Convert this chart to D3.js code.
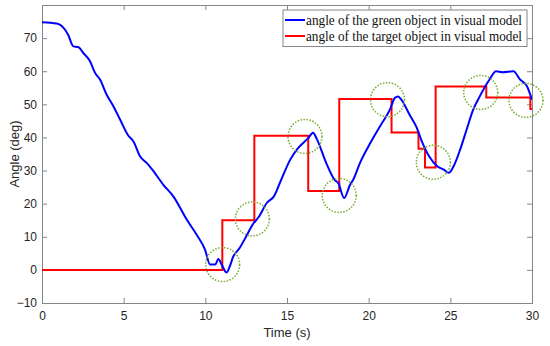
<!DOCTYPE html>
<html>
<head>
<meta charset="utf-8">
<script src="https://cdn.jsdelivr.net/npm/d3@7"></script>
<style>
  body { margin: 0; background: #fff; }
  svg { display: block; }
</style>
</head>
<body>
<svg id="chart" width="550" height="346"></svg>
<script>
// Data
const greenTime = [0, 0.9, 1.4, 1.6, 1.92, 2.22, 2.53, 2.94, 3.25, 3.55, 3.96, 4.37, 4.78, 5.29, 5.6, 6.0, 6.41, 6.75, 7.43, 8.04, 8.86, 9.47, 9.98, 10.29, 10.6, 10.8, 11.0, 11.3, 11.5, 11.7, 12.1, 12.5, 12.9, 13.3, 13.76, 14.2, 14.6, 15.2, 15.6, 16.3, 16.6, 16.8, 17.4, 17.9, 18.14, 18.5, 18.86, 19.06, 19.47, 20.1, 20.7, 21.3, 21.6, 21.8, 22.0, 22.5, 22.9, 23.3, 23.7, 24.2, 24.6, 24.9, 25.2, 25.6, 26.0, 26.4, 26.8, 27.4, 27.8, 28.2, 28.86, 29.27, 29.7, 30];
const greenAngle = [74.8, 74.4, 72.6, 71, 67.5, 67.3, 65.5, 63, 59.5, 57.5, 52.9, 49.4, 45.4, 40.5, 38.8, 34.3, 32.3, 30.3, 25.7, 22.2, 15.2, 10.6, 6.1, 1.6, 1.6, 3.3, 1.6, -0.8, 1.1, 3.9, 6.6, 10.1, 13.7, 16.2, 20.2, 22.2, 26.7, 33.3, 36.3, 39.8, 41.4, 39.8, 32.3, 27.3, 26.2, 21.7, 25.7, 27.3, 32.3, 38.3, 43.4, 48.4, 51.9, 52.4, 51.4, 46.9, 43.4, 38.3, 34.3, 31.3, 30.3, 29.3, 31.3, 36.3, 42.4, 48.4, 52.4, 57.5, 60, 59.7, 60, 57.5, 55.4, 51.4];

// target steps: value holds from stepStart[i] until stepStart[i+1]
const stepStart = [0, 11.04, 13.0, 16.3, 18.2, 21.4, 23.05, 23.45, 24.1, 27.2, 29.9, 30];
const stepValue = [0, 15, 40.5, 23.8, 51.6, 41.5, 36.6, 30.9, 55.4, 52.1, 48.6, 48.6];

const circleTime = [11.06, 12.88, 16.1, 18.2, 21.15, 23.96, 26.86, 29.63];
const circleAngle = [1.6, 15.4, 40.3, 22.5, 51.4, 32.5, 53.6, 51.2];

const xTicks = [0, 5, 10, 15, 20, 25, 30];
const yTicks = [-10, 0, 10, 20, 30, 40, 50, 60, 70];
const legendLabels = ["angle of the green object in visual model", "angle of the target object in visual model"];
const legendColors = ["#0000ff", "#ff0000"];

// Layout
const plotLeft = 42, plotRight = 532, plotTop = 5, plotBottom = 303;
const svg = d3.select("#chart");

const x = d3.scaleLinear().domain([0, 30]).range([plotLeft, plotRight]);
const y = d3.scaleLinear().domain([-10, 80]).range([plotBottom, plotTop]);

const axisColor = "#868686";
const textColor = "#262626";
const sans = "'Liberation Sans', Arial, sans-serif";

// Axes
const gx = svg.append("g").attr("transform", `translate(0,${plotBottom})`)
  .call(d3.axisBottom(x).tickValues(xTicks).tickSize(-5).tickPadding(8).tickFormat(d3.format("d")));
const gxTop = svg.append("g").attr("transform", `translate(0,${plotTop})`)
  .call(d3.axisTop(x).tickValues(xTicks).tickSize(-5).tickFormat(""));
const gy = svg.append("g").attr("transform", `translate(${plotLeft},0)`)
  .call(d3.axisLeft(y).tickValues(yTicks).tickSize(-5).tickPadding(5).tickFormat(d3.format("d")));
const gyRight = svg.append("g").attr("transform", `translate(${plotRight},0)`)
  .call(d3.axisRight(y).tickValues(yTicks).tickSize(-5).tickFormat(""));

[gx, gxTop, gy, gyRight].forEach(g => {
  g.selectAll("path.domain").attr("stroke", axisColor).attr("stroke-width", 1);
  g.selectAll(".tick line").attr("stroke", axisColor);
  g.selectAll(".tick text")
    .attr("fill", textColor)
    .style("font-family", sans)
    .style("font-size", "12px");
});

// Axis labels
svg.append("text")
  .attr("x", (plotLeft + plotRight) / 2)
  .attr("y", 336.5)
  .attr("text-anchor", "middle")
  .attr("fill", textColor)
  .style("font-family", sans)
  .style("font-size", "13px")
  .text("Time (s)");

svg.append("text")
  .attr("transform", `translate(18.5,${(plotTop + plotBottom) / 2}) rotate(-90)`)
  .attr("text-anchor", "middle")
  .attr("fill", textColor)
  .style("font-family", sans)
  .style("font-size", "13px")
  .text("Angle (deg)");

// Clip
svg.append("clipPath").attr("id", "plot-clip")
  .append("rect").attr("x", plotLeft).attr("y", plotTop)
  .attr("width", plotRight - plotLeft).attr("height", plotBottom - plotTop);

const plot = svg.append("g").attr("clip-path", "url(#plot-clip)");

// Target step line
const stepData = stepStart.map((t, i) => [t, stepValue[i]]);
plot.append("path")
  .datum(stepData)
  .attr("fill", "none")
  .attr("stroke", "#ff0000")
  .attr("stroke-width", 2)
  .attr("d", d3.line().x(d => x(d[0])).y(d => y(d[1])).curve(d3.curveStepAfter));

// Green object line
const greenData = greenTime.map((t, i) => [t, greenAngle[i]]);
plot.append("path")
  .datum(greenData)
  .attr("fill", "none")
  .attr("stroke", "#0000ff")
  .attr("stroke-width", 2)
  .attr("d", d3.line().x(d => x(d[0])).y(d => y(d[1])).curve(d3.curveMonotoneX));

// Circles
svg.append("g")
  .selectAll("circle")
  .data(circleTime.map((t, i) => [t, circleAngle[i]]))
  .join("circle")
  .attr("cx", d => x(d[0]))
  .attr("cy", d => y(d[1]))
  .attr("r", 17)
  .attr("fill", "none")
  .attr("stroke", "#77ac30")
  .attr("stroke-width", 1.5)
  .attr("stroke-dasharray", "1.5,1.5");

// Legend
const legend = svg.append("g");
legend.append("rect")
  .attr("x", 283).attr("y", 10)
  .attr("width", 244).attr("height", 36.5)
  .attr("fill", "#fff")
  .attr("stroke", "#868686")
  .attr("stroke-width", 1);

legendLabels.forEach((label, i) => {
  const ly = 20 + i * 16;
  legend.append("line")
    .attr("x1", 285).attr("x2", 305)
    .attr("y1", ly).attr("y2", ly)
    .attr("stroke", legendColors[i])
    .attr("stroke-width", 2);
  const txt = legend.append("text")
    .attr("x", 306)
    .attr("y", ly + 4.5)
    .attr("fill", "#111")
    .style("font-family", "'Liberation Serif', 'DejaVu Serif', serif")
    .style("font-size", "14px")
    .text(label);
  // squeeze slightly so the label fits the box like the original
  const w = txt.node().getComputedTextLength();
  if (w > 216) txt.attr("textLength", 216).attr("lengthAdjust", "spacingAndGlyphs");
});
</script>
</body>
</html>
